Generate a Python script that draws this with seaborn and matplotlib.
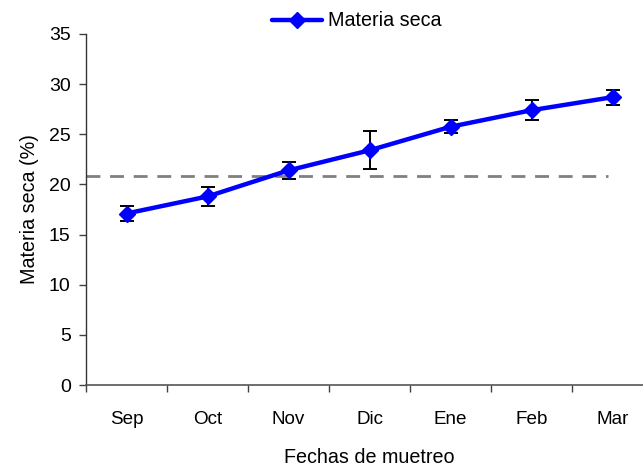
import numpy as np
import matplotlib
matplotlib.use("Agg")
import matplotlib.pyplot as plt
import seaborn as sns
import pandas as pd

# Sampling months and dry matter content (%)
meses = ["Sep", "Oct", "Nov", "Dic", "Ene", "Feb", "Mar"]
materia_seca = [17.1, 18.8, 21.4, 23.4, 25.75, 27.4, 28.7]
error = [0.7, 0.95, 0.85, 1.9, 0.65, 1.0, 0.75]
umbral = 20.8
yticks = [0, 5, 10, 15, 20, 25, 30, 35]

sns.set_style("ticks")
plt.rcParams["font.family"] = ["Liberation Sans", "DejaVu Sans"]
plt.rcParams["text.color"] = "black"
plt.rcParams["axes.labelcolor"] = "black"
plt.rcParams["xtick.color"] = "black"
plt.rcParams["ytick.color"] = "black"

df = pd.DataFrame({"pos": np.arange(len(meses)), "ms": materia_seca, "err": error})

fig = plt.figure(figsize=(6.43, 4.72), dpi=100)
ax = fig.add_axes([86 / 643, 1 - 385 / 472, 567 / 643, 351 / 472])

# reference level
ax.hlines(umbral, -0.5, 5.94, colors="#808080", linewidth=2,
          linestyles=(0, (5, 3.5)), zorder=1)

# error bars behind the series
ax.errorbar(df["pos"], df["ms"], yerr=df["err"], fmt="none", ecolor="black",
            elinewidth=1.4, capsize=5, capthick=1.4, zorder=2)

sns.lineplot(data=df, x="pos", y="ms", ax=ax, color="#0000FF", linewidth=3.2,
             marker="D", markersize=8, markeredgecolor="#0000FF",
             markeredgewidth=1, label="Materia seca", zorder=3)

ax.set_xlim(-0.5, len(meses) - 0.5)
ax.set_ylim(0, 35)
ax.set_yticks(yticks)
ax.set_yticklabels([str(v) for v in yticks], fontsize=14)

# category labels centred, tick marks at boundaries
ax.set_xticks(np.arange(-0.5, len(meses), 1.0))
ax.set_xticklabels([])
ax.set_xticks(np.arange(len(meses)), minor=True)
ax.set_xticklabels(meses, minor=True, fontsize=13.6)
ax.tick_params(axis="x", which="minor", length=0, pad=19)
ax.tick_params(axis="x", which="major", length=5, width=1, color="#404040")
ax.tick_params(axis="y", length=5, width=1, color="#404040", pad=6)

ax.set_xlabel("Fechas de muetreo", fontsize=14.2, labelpad=14)
ax.set_ylabel("Materia seca (%)", fontsize=14.2, labelpad=7)

for side in ("top", "right"):
    ax.spines[side].set_visible(False)
ax.spines["left"].set_color("#333333")
ax.spines["bottom"].set_color("#555555")
ax.spines["left"].set_linewidth(1)
ax.spines["bottom"].set_linewidth(1.2)

leg = ax.legend(loc="center", frameon=False, fontsize=14.2,
                handlelength=2.55, handletextpad=0.3)
leg.set_bbox_to_anchor((357 / 643, 1 - 21 / 472), transform=fig.transFigure)

fig.savefig("out.png", dpi=100)
